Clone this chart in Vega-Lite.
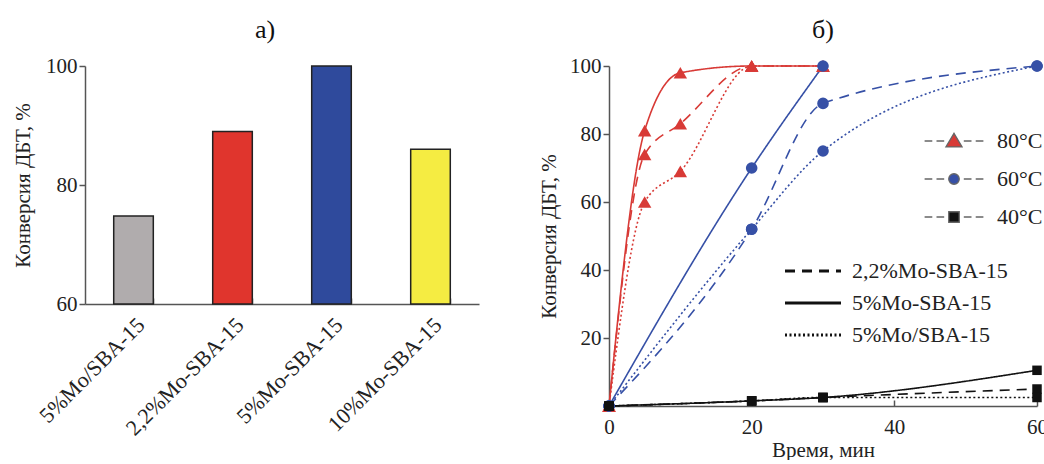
{
  "$schema": "https://vega.github.io/schema/vega-lite/v6.json",
  "padding": {"left": 12, "top": 17, "right": 0, "bottom": 0},
  "spacing": 59,
  "background": "white",
  "resolve": {"scale": {"x": "independent", "y": "independent", "color": "independent", "shape": "independent", "size": "independent", "strokeDash": "independent"}, "legend": {"color": "independent", "shape": "independent", "size": "independent", "strokeDash": "independent"}},
  "config": {
    "font": "Liberation Serif",
    "view": {"stroke": null},
    "axis": {
      "labelFont": "Liberation Serif",
      "titleFont": "Liberation Serif",
      "labelFontSize": 21,
      "titleFontSize": 21,
      "titleFontWeight": "normal",
      "labelColor": "#222",
      "titleColor": "#222",
      "domainColor": "#555",
      "tickColor": "#555",
      "domainWidth": 1.5,
      "tickWidth": 1.5,
      "grid": false
    },
    "title": {"font": "Liberation Serif", "fontSize": 26, "fontWeight": "normal", "color": "#111"},
    "legend": {"labelFont": "Liberation Serif", "labelFontSize": 22, "labelColor": "#222"}
  },
  "hconcat": [
    {
      "title": {"text": "а)", "anchor": "middle", "frame": "group", "dx": -17, "offset": 12},
      "width": 394,
      "height": 238,
      "data": {"values": [
        {"cat": "5%Mo/SBA-15", "conv": 74.8},
        {"cat": "2,2%Mo-SBA-15", "conv": 89},
        {"cat": "5%Mo-SBA-15", "conv": 100},
        {"cat": "10%Mo-SBA-15", "conv": 86}
      ]},
      "mark": {"type": "bar", "stroke": "#222", "strokeWidth": 1.5},
      "encoding": {
        "x": {"field": "cat", "type": "nominal", "sort": null,
              "scale": {"paddingInner": 0.6, "paddingOuter": 0.29},
              "axis": {"title": null, "labelAngle": -45, "tickBand": "extent", "labelPadding": 16, "tickSize": -6, "labelLimit": 300, "labelFontSize": 22}},
        "y": {"field": "conv", "type": "quantitative",
              "scale": {"domain": [60, 100], "nice": false, "zero": false},
              "axis": {"values": [60, 80, 100], "title": "Конверсия ДБТ, %", "tickSize": 6, "titlePadding": 12}},
        "y2": {"datum": 60},
        "color": {"field": "cat", "type": "nominal",
                  "scale": {"domain": ["5%Mo/SBA-15", "2,2%Mo-SBA-15", "5%Mo-SBA-15", "10%Mo-SBA-15"],
                            "range": ["#b0acad", "#e0352d", "#2f4a9c", "#f5ec42"]},
                  "legend": null}
      }
    },
    {
      "title": {"text": "б)", "anchor": "middle", "frame": "group", "offset": 12},
      "width": 428,
      "height": 340,
      "data": {"values": [
        {"t": 0, "y": 0, "temp": "80°C", "cat": "2,2%Mo-SBA-15"},
        {"t": 5, "y": 74, "temp": "80°C", "cat": "2,2%Mo-SBA-15"},
        {"t": 10, "y": 83, "temp": "80°C", "cat": "2,2%Mo-SBA-15"},
        {"t": 20, "y": 100, "temp": "80°C", "cat": "2,2%Mo-SBA-15"},
        {"t": 30, "y": 100, "temp": "80°C", "cat": "2,2%Mo-SBA-15"},
        {"t": 0, "y": 0, "temp": "80°C", "cat": "5%Mo-SBA-15"},
        {"t": 5, "y": 81, "temp": "80°C", "cat": "5%Mo-SBA-15"},
        {"t": 10, "y": 98, "temp": "80°C", "cat": "5%Mo-SBA-15"},
        {"t": 20, "y": 100, "temp": "80°C", "cat": "5%Mo-SBA-15"},
        {"t": 30, "y": 100, "temp": "80°C", "cat": "5%Mo-SBA-15"},
        {"t": 0, "y": 0, "temp": "80°C", "cat": "5%Mo/SBA-15"},
        {"t": 5, "y": 60, "temp": "80°C", "cat": "5%Mo/SBA-15"},
        {"t": 10, "y": 69, "temp": "80°C", "cat": "5%Mo/SBA-15"},
        {"t": 20, "y": 100, "temp": "80°C", "cat": "5%Mo/SBA-15"},
        {"t": 30, "y": 100, "temp": "80°C", "cat": "5%Mo/SBA-15"},
        {"t": 0, "y": 0, "temp": "60°C", "cat": "5%Mo-SBA-15"},
        {"t": 20, "y": 70, "temp": "60°C", "cat": "5%Mo-SBA-15"},
        {"t": 30, "y": 100, "temp": "60°C", "cat": "5%Mo-SBA-15"},
        {"t": 0, "y": 0, "temp": "60°C", "cat": "2,2%Mo-SBA-15"},
        {"t": 20, "y": 52, "temp": "60°C", "cat": "2,2%Mo-SBA-15"},
        {"t": 30, "y": 89, "temp": "60°C", "cat": "2,2%Mo-SBA-15"},
        {"t": 60, "y": 100, "temp": "60°C", "cat": "2,2%Mo-SBA-15"},
        {"t": 0, "y": 0, "temp": "60°C", "cat": "5%Mo/SBA-15"},
        {"t": 20, "y": 52, "temp": "60°C", "cat": "5%Mo/SBA-15"},
        {"t": 30, "y": 75, "temp": "60°C", "cat": "5%Mo/SBA-15"},
        {"t": 60, "y": 100, "temp": "60°C", "cat": "5%Mo/SBA-15"},
        {"t": 0, "y": 0, "temp": "40°C", "cat": "5%Mo-SBA-15"},
        {"t": 20, "y": 1.5, "temp": "40°C", "cat": "5%Mo-SBA-15"},
        {"t": 30, "y": 2.5, "temp": "40°C", "cat": "5%Mo-SBA-15"},
        {"t": 60, "y": 10.5, "temp": "40°C", "cat": "5%Mo-SBA-15"},
        {"t": 0, "y": 0, "temp": "40°C", "cat": "2,2%Mo-SBA-15"},
        {"t": 20, "y": 1.5, "temp": "40°C", "cat": "2,2%Mo-SBA-15"},
        {"t": 30, "y": 2.5, "temp": "40°C", "cat": "2,2%Mo-SBA-15"},
        {"t": 60, "y": 5, "temp": "40°C", "cat": "2,2%Mo-SBA-15"},
        {"t": 0, "y": 0, "temp": "40°C", "cat": "5%Mo/SBA-15"},
        {"t": 20, "y": 1.5, "temp": "40°C", "cat": "5%Mo/SBA-15"},
        {"t": 30, "y": 2.5, "temp": "40°C", "cat": "5%Mo/SBA-15"},
        {"t": 60, "y": 2.5, "temp": "40°C", "cat": "5%Mo/SBA-15"}
      ]},
      "encoding": {
        "x": {"field": "t", "type": "quantitative",
              "scale": {"domain": [0, 60], "nice": false},
              "axis": {"values": [0, 20, 40, 60], "title": "Время, мин", "tickSize": -6, "labelPadding": 16, "titlePadding": 2, "labelFlush": false}},
        "y": {"field": "y", "type": "quantitative",
              "scale": {"domain": [0, 100], "nice": false},
              "axis": {"values": [20, 40, 60, 80, 100], "title": "Конверсия ДБТ, %", "tickSize": 6, "titlePadding": 10}}
      },
      "resolve": {"scale": {"color": "independent", "shape": "independent", "size": "independent"}},
      "layer": [
        {
          "mark": {"type": "line", "interpolate": "monotone", "strokeWidth": 1.6},
          "encoding": {
            "color": {"field": "temp", "type": "nominal",
                      "scale": {"domain": ["80°C", "60°C", "40°C"], "range": ["#d83a36", "#3650a6", "#111111"]},
                      "legend": null},
            "strokeDash": {"field": "cat", "type": "nominal",
                           "scale": {"domain": ["2,2%Mo-SBA-15", "5%Mo-SBA-15", "5%Mo/SBA-15"],
                                     "range": [[10, 7], [1, 0], [2, 2.5]]},
                           "legend": {"title": null, "orient": "none", "legendX": 193, "legendY": 194,
                                      "symbolType": "M-8,0H8", "symbolSize": 49,
                                      "symbolStrokeColor": "#111", "symbolStrokeWidth": 3,
                                      "rowPadding": 10, "labelOffset": 28}}
          }
        },
        {
          "mark": {"type": "point", "filled": true, "opacity": 1},
          "encoding": {
            "color": {"field": "temp", "type": "nominal",
                      "scale": {"domain": ["80°C", "60°C", "40°C"], "range": ["#d83a36", "#3650a6", "#111111"]},
                      "legend": null},
            "shape": {"field": "temp", "type": "nominal",
                      "scale": {"domain": ["80°C", "60°C", "40°C"], "range": ["triangle-up", "circle", "square"]},
                      "legend": null},
            "size": {"field": "temp", "type": "nominal",
                     "scale": {"domain": ["80°C", "60°C", "40°C"], "range": [180, 90, 220]},
                     "legend": null}
          }
        },
        {
          "transform": [{"filter": "datum.t < 0"}],
          "mark": {"type": "point", "filled": true, "opacity": 1},
          "encoding": {
            "color": {"field": "temp", "type": "nominal",
                      "scale": {"domain": ["80°C", "60°C", "40°C"], "range": ["#d83a36", "#3650a6", "#111111"]},
                      "legend": {"title": null, "orient": "none", "legendX": 334, "legendY": 64,
                                 "symbolSize": 196, "symbolStrokeColor": "#666", "symbolStrokeWidth": 1.3,
                                 "rowPadding": 16, "labelOffset": 32}},
            "shape": {"field": "temp", "type": "nominal",
                      "scale": {"domain": ["80°C", "60°C", "40°C"],
                                "range": [
                                  "M0,-1.1L1.15,0.85L-1.15,0.85Z M-4.2,0H-3.1 M-2.5,0H-1.4 M1.4,0H2.5 M3.1,0H4.2",
                                  "M0.75,0A0.75,0.75 0 1,1 -0.75,0A0.75,0.75 0 1,1 0.75,0Z M-4.2,0H-3.1 M-2.5,0H-1.4 M1.4,0H2.5 M3.1,0H4.2",
                                  "M-0.75,-0.75H0.75V0.75H-0.75Z M-4.2,0H-3.1 M-2.5,0H-1.4 M1.4,0H2.5 M3.1,0H4.2"
                                ]},
                      "legend": {"title": null, "orient": "none", "legendX": 334, "legendY": 64,
                                 "symbolSize": 196, "symbolStrokeColor": "#666", "symbolStrokeWidth": 1.3,
                                 "rowPadding": 16, "labelOffset": 32}}
          }
        }
      ]
    }
  ]
}
